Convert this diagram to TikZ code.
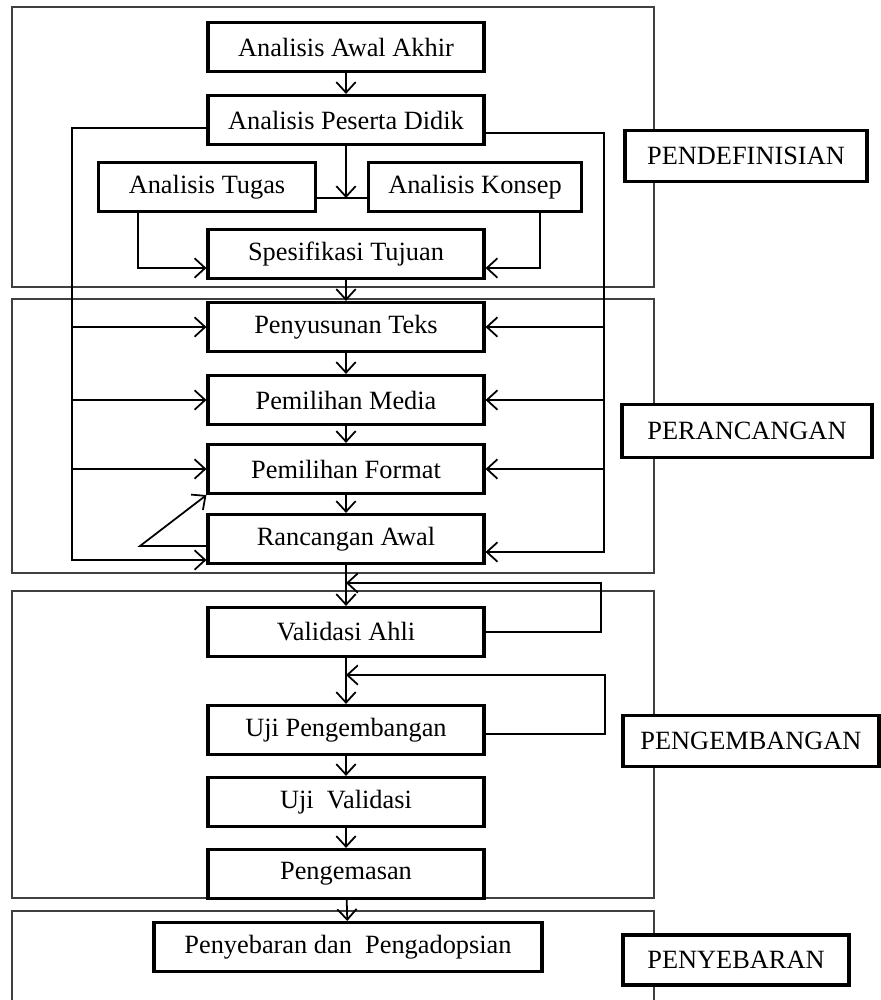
\documentclass[tikz,border=0pt]{standalone}
\usepackage{fontspec}
\setmainfont{Liberation Serif}
\usetikzlibrary{arrows.meta}
\begin{document}
\begin{tikzpicture}[x=0.02cm,y=-0.02cm,
        kotak/.style={draw,fill=white,line width=1.8pt,inner sep=0pt,
            minimum width=5.52cm,minimum height=0.98cm,
            font=\fontsize{15}{17}\selectfont},
        tahap/.style={kotak,minimum height=1.02cm},
        bingkai/.style={black!75,line width=1pt},
        garis/.style={line width=1pt},
        panah/.style={garis,-{Straight Barb[length=6pt,width=11pt]}}]
            \useasboundingbox (0,0) rectangle (880,1000);
            % 四个阶段的外框
            \draw[bingkai] (12,7) rectangle (654,287);
            \draw[bingkai] (12,299) rectangle (654,573);
            \draw[bingkai] (12,591) rectangle (654,898);
            \draw[bingkai] (12,1003) -- (12,911) -- (654,911) -- (654,1003);
            % 右侧阶段名称
            \node[tahap,minimum width=4.84cm] (lbDefinisi) at (746,156) {PENDEFINISIAN};
            \node[tahap,minimum width=5.0cm,minimum height=1.06cm] (lbRancang) at (747,431) {PERANCANGAN};
            \node[tahap,minimum width=5.12cm] (lbKembang) at (751,741) {PENGEMBANGAN};
            \node[tahap,minimum width=4.52cm,minimum height=1.0cm] (lbSebar) at (736,960) {PENYEBARAN};
            % 第一阶段
            \node[kotak] (awal) at (346,47) {Analisis Awal Akhir};
            \node[kotak] (didik) at (346,120) {Analisis Peserta Didik};
            \node[kotak,minimum width=4.34cm] (tugas) at (207,187) {Analisis Tugas};
            \node[kotak,minimum width=4.26cm] (konsep) at (475,187) {Analisis Konsep};
            \node[kotak] (tujuan) at (346,254) {Spesifikasi Tujuan};
            % 第二阶段
            \node[kotak] (teks) at (346,327) {Penyusunan Teks};
            \node[kotak] (media) at (346,400) {Pemilihan Media};
            \node[kotak] (format) at (346,469) {Pemilihan Format};
            \node[kotak] (rancangan) at (346,539) {Rancangan Awal};
            % 第三阶段
            \node[kotak] (validasi) at (346,632) {Validasi Ahli};
            \node[kotak] (ujikembang) at (346,730) {Uji Pengembangan};
            \node[kotak] (ujivalid) at (346,802) {Uji~ Validasi};
            \node[kotak] (kemas) at (346,874) {Pengemasan};
            % 第四阶段
            \node[kotak,minimum width=7.76cm] (sebar) at (348,947) {Penyebaran dan~ Pengadopsian};
            % 辅助点
            \coordinate (kiri) at (72,0);
            \coordinate (kanan) at (604,0);
            \coordinate (temu) at ([yshift=-0.22cm]tugas.east);
            \coordinate (rkiri) at ([yshift=-0.42cm]rancangan.west);
            \coordinate (rkanan) at ([yshift=-0.26cm]rancangan.east);
            \coordinate (puncak) at (140,546);
            \coordinate (balik1) at (601,583);
            \coordinate (balik2) at (605,675);
            % 第一阶段的连线
            \draw[panah] (awal) -- (didik);
            \draw[garis] (temu) -- ([yshift=-0.22cm]konsep.west);
            \draw[panah] (didik.south) -- (didik.south |- temu);
            \draw[panah] ([xshift=-1.38cm]tugas.south) |- ([yshift=-0.28cm]tujuan.west);
            \draw[panah] ([xshift=1.3cm]konsep.south) |- ([yshift=-0.28cm]tujuan.east);
            % 主线向下
            \foreach \a/\b in {tujuan/teks, teks/media, media/format, format/rancangan,
                rancangan/validasi, validasi/ujikembang, ujikembang/ujivalid,
                ujivalid/kemas, kemas/sebar} {
                \draw[panah] (\a) -- (\b);
            }
            % 左右两条总线
            \draw[panah] ([yshift=-0.16cm]didik.west) -| (kiri |- rkiri) -- (rkiri);
            \draw[panah] ([yshift=-0.26cm]didik.east) -| (kanan |- rkanan) -- (rkanan);
            \foreach \n in {teks, media, format} {
                \draw[panah] (kiri |- \n.west) -- (\n.west);
                \draw[panah] (kanan |- \n.east) -- (\n.east);
            }
            % 斜线回到 Pemilihan Format
            \draw[panah] ([yshift=-0.14cm]rancangan.west) -- (puncak) -- (format.south west);
            % 两条反馈线
            \draw[panah] (validasi.east) -| (balik1) -- (balik1 -| validasi.north);
            \draw[panah] ([yshift=-0.08cm]ujikembang.east) -| (balik2) -- (balik2 -| ujikembang.north);
\end{tikzpicture}
\end{document}
